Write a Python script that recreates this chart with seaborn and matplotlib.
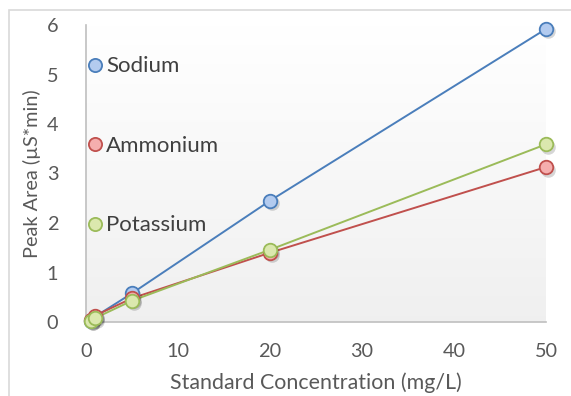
import numpy as np
import pandas as pd
import matplotlib
matplotlib.use("Agg")
import matplotlib.pyplot as plt
import matplotlib.patches as mpatches
import seaborn as sns

# Calibration data: standard concentration vs. peak area
concentration = [0.5, 1, 5, 20, 50]
sodium = [0.03, 0.11, 0.58, 2.45, 5.92]
ammonium = [0.04, 0.13, 0.48, 1.40, 3.13]
potassium = [0.03, 0.08, 0.43, 1.46, 3.59]
series_names = ["Sodium", "Ammonium", "Potassium"]
x_ticks = [0, 10, 20, 30, 40, 50]
y_ticks = [0, 1, 2, 3, 4, 5, 6]

line_colors = {"Sodium": "#4a7ebb", "Ammonium": "#c0504d", "Potassium": "#9bbb59"}
fill_colors = {"Sodium": "#b3cbef", "Ammonium": "#f5aeae", "Potassium": "#dbe8ae"}

df = pd.DataFrame({
    "conc": concentration * 3,
    "area": sodium + ammonium + potassium,
    "ion": sum([[n] * len(concentration) for n in series_names], []),
})

sns.set_theme(style="white")
plt.rcParams["font.family"] = ["Lato", "DejaVu Sans"]
FS = 14.3

fig = plt.figure(figsize=(5.71, 3.96), dpi=100)
fig.patch.set_facecolor("white")
# chart frame
fig.patches.append(mpatches.Rectangle((9 / 571, -0.1), 1.2, 1 - 10 / 396 + 0.1,
                                      transform=fig.transFigure, fill=False,
                                      edgecolor="#d9d9d9", linewidth=1.2))

ax = fig.add_axes([86 / 571, 1 - 322 / 396, (546 - 86) / 571, (322 - 25) / 396])
ax.set_facecolor("none")

# plot-area gradient
grad = np.linspace(0.0, 1.0, 256).reshape(-1, 1, 1)
top = np.array([1.0, 1.0, 1.0])
bot = np.array([0.94, 0.94, 0.94])
img = top * (1 - grad) + bot * grad
ax.imshow(img, extent=[0, 1, 0, 1], transform=ax.transAxes, aspect="auto", zorder=0)

sns.lineplot(data=df, x="conc", y="area", hue="ion", palette=line_colors,
             linewidth=1.4, legend=False, ax=ax, zorder=2)
for name in series_names:
    sub = df[df.ion == name]
    ax.scatter(sub.conc + 0.25, sub.area - 0.05, s=110, color="#000000", alpha=0.16,
               linewidths=0, zorder=3, clip_on=False)
    ax.scatter(sub.conc, sub.area, s=95, facecolor=fill_colors[name],
               edgecolor=line_colors[name], linewidth=1.3, zorder=4, clip_on=False)

ax.set_xlim(0, 50)
ax.set_ylim(0, 6)
ax.set_xticks(x_ticks)
ax.set_yticks(y_ticks)
ax.tick_params(axis="both", length=0, labelsize=FS, colors="#595959")
ax.tick_params(axis="y", pad=20)
ax.tick_params(axis="x", pad=15)
for s in ["top", "right"]:
    ax.spines[s].set_visible(False)
for s in ["left", "bottom"]:
    ax.spines[s].set_color("#bfbfbf")
    ax.spines[s].set_linewidth(1.2)

ax.set_xlabel("Standard Concentration (mg/L)", fontsize=15.4, color="#595959", labelpad=9)
ax.set_ylabel("Peak Area (µS*min)", fontsize=FS, color="#595959", labelpad=4)

handles = [plt.Line2D([], [], marker="o", linestyle="none", markersize=9.5,
                      markerfacecolor=fill_colors[n], markeredgecolor=line_colors[n],
                      markeredgewidth=1.3) for n in series_names]
ax.legend(handles, series_names, loc="upper left", bbox_to_anchor=(-0.046, 0.962),
          frameon=False, fontsize=16, labelspacing=2.68, handletextpad=0.05,
          handlelength=0.9, labelcolor="#404040")

fig.savefig("out.png", dpi=100)
